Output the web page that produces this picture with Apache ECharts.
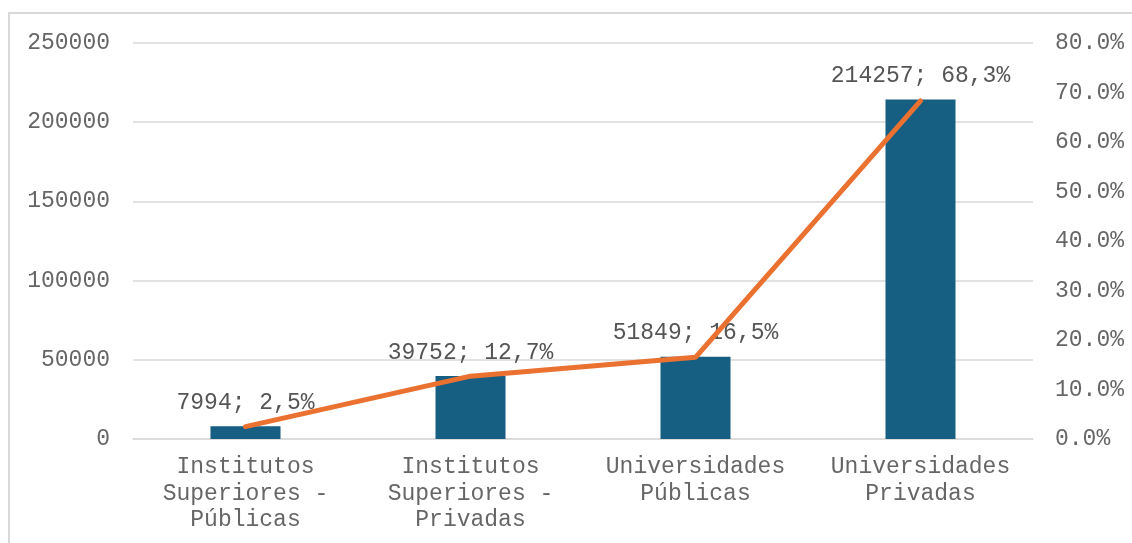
<!DOCTYPE html>
<html>
<head>
<meta charset="utf-8">
<script src="https://cdn.jsdelivr.net/npm/echarts@6/dist/echarts.min.js"></script>
<style>
    html, body { margin: 0; padding: 0; background: #fff; }
    .frame {
        position: absolute;
        left: 8px;
        top: 12px;
        width: 1150px;
        height: 560px;
        border: 2px solid #d9d9d9;
    }
    #chart {
        position: absolute;
        left: 0;
        top: 0;
        width: 1132px;
        height: 543px;
    }
</style>
</head>
<body>
<div class="frame"></div>
<div id="chart"></div>
<script>
const categories = [
    "Institutos\nSuperiores -\nPúblicas",
    "Institutos\nSuperiores -\nPrivadas",
    "Universidades\nPúblicas",
    "Universidades\nPrivadas"
];
const students = [7994, 39752, 51849, 214257];
const shares = [2.5, 12.7, 16.5, 68.3];
const shareLabels = ["2,5%", "12,7%", "16,5%", "68,3%"];

const font = "'Courier New', 'Liberation Mono', monospace";
const textColor = "#666666";

let myChart = echarts.init(document.getElementById("chart"));

let option = {
    animation: false,
    textStyle: { fontFamily: font },
    grid: {
        left: 133,
        right: 99,
        top: 43,
        bottom: 104
    },
    xAxis: {
        type: "category",
        data: categories,
        axisTick: { show: false },
        axisLine: { lineStyle: { color: "#d9d9d9", width: 1.5 } },
        axisLabel: {
            color: textColor,
            fontFamily: font,
            fontSize: 23,
            lineHeight: 26.5,
            margin: 15,
            interval: 0
        }
    },
    yAxis: [
        {
            type: "value",
            min: 0,
            max: 250000,
            interval: 50000,
            axisLine: { show: false },
            axisTick: { show: false },
            splitLine: { lineStyle: { color: "#d9d9d9", width: 1.5 } },
            axisLabel: {
                color: textColor,
                fontFamily: font,
                fontSize: 23,
                margin: 23,
                formatter: v => String(v)
            }
        },
        {
            type: "value",
            min: 0,
            max: 80,
            interval: 10,
            axisLine: { show: false },
            axisTick: { show: false },
            splitLine: { show: false },
            axisLabel: {
                color: textColor,
                fontFamily: font,
                fontSize: 23,
                margin: 22,
                formatter: v => v.toFixed(1) + "%"
            }
        }
    ],
    series: [
        {
            type: "bar",
            data: students,
            barWidth: 70,
            itemStyle: { color: "#175e83" },
            label: {
                show: true,
                position: "top",
                distance: 12,
                color: "#555555",
                fontFamily: font,
                fontSize: 23,
                formatter: p => p.value + "; " + shareLabels[p.dataIndex]
            }
        },
        {
            type: "line",
            yAxisIndex: 1,
            data: shares,
            symbol: "none",
            lineStyle: { color: "#ea7130", width: 5, cap: "round" },
            z: 3
        }
    ]
};

myChart.setOption(option);
</script>
</body>
</html>
